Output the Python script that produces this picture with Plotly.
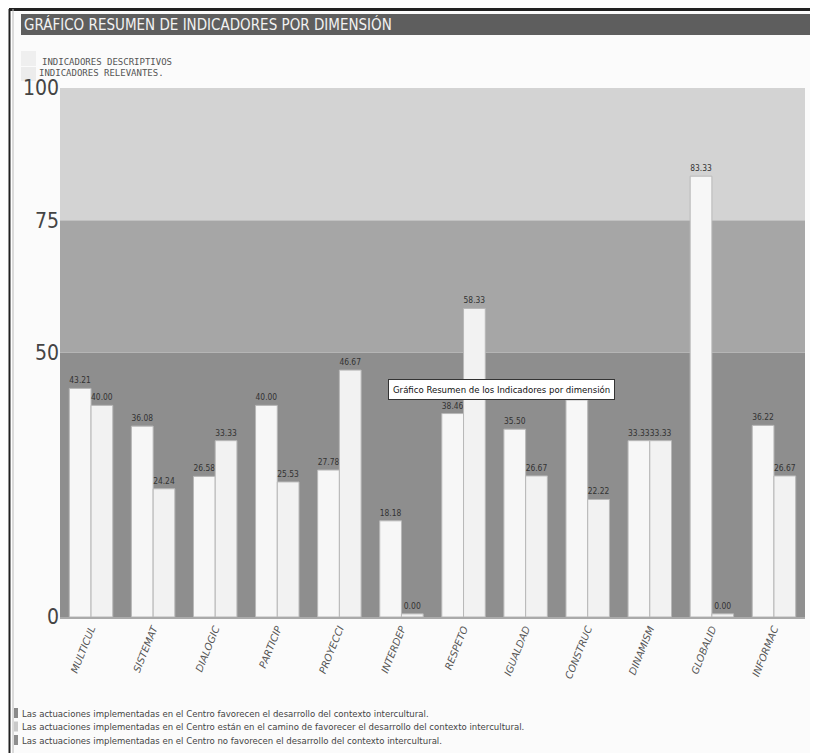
import plotly.graph_objects as go

categories = ["MULTICUL", "SISTEMAT", "DIALOGIC", "PARTICIP", "PROYECCI", "INTERDEP",
              "RESPETO", "IGUALDAD", "CONSTRUC", "DINAMISM", "GLOBALID", "INFORMAC"]
descriptivos = [43.21, 36.08, 26.58, 40.00, 27.78, 18.18, 38.46, 35.50, 41.03, 33.33, 83.33, 36.22]
relevantes = [40.00, 24.24, 33.33, 25.53, 46.67, 0.00, 58.33, 26.67, 22.22, 33.33, 0.00, 26.67]
y_ticks = [0, 50, 75, 100]
bands = [(0, 50, "#8e8e8e"), (50, 75, "#a6a6a6"), (75, 100, "#d3d3d3")]
legend_bottom = [
    ("#8a8a8a", "Las actuaciones implementadas en el Centro favorecen el desarrollo del contexto intercultural."),
    ("#c9c9c9", "Las actuaciones implementadas en el Centro están en el camino de favorecer el desarrollo del contexto intercultural."),
    ("#8e8e8e", "Las actuaciones implementadas en el Centro no favorecen el desarrollo del contexto intercultural."),
]
title_text = "GRÁFICO RESUMEN DE INDICADORES POR DIMENSIÓN"
legend_top = ["INDICADORES DESCRIPTIVOS", "INDICADORES RELEVANTES."]
tooltip_text = "Gráfico Resumen de los Indicadores por dimensión"

OFF = 8  # page body margin
W, H = 818 - OFF, 753 - OFF
# plot area in reference pixels: x 60..805, y 88..617
L, R, T, B = 60 - OFF, 818 - 805, 88 - OFF, 753 - 617
PW, PH = W - L - R, H - T - B


def px(x):
    return (x - OFF - L) / PW


def py(y):
    return (H - B - (y - OFF)) / PH


MIN_VIS = 0.6  # the original draws a thin sliver for 0.00 values
bar_font = dict(size=8.5, color="#333", family="DejaVu Sans Condensed")

fig = go.Figure()
fig.add_trace(go.Bar(
    x=categories, y=[max(v, MIN_VIS) for v in descriptivos],
    text=[f"{v:.2f}" for v in descriptivos], textposition="outside", textfont=bar_font,
    marker=dict(color="#f7f7f7", line=dict(color="#b8b8b8", width=1)),
    cliponaxis=False, hoverinfo="skip", showlegend=False))
fig.add_trace(go.Bar(
    x=categories, y=[max(v, MIN_VIS) for v in relevantes],
    text=[f"{v:.2f}" for v in relevantes], textposition="outside", textfont=bar_font,
    marker=dict(color="#f2f2f2", line=dict(color="#b8b8b8", width=1)),
    cliponaxis=False, hoverinfo="skip", showlegend=False))

shapes = []
# panel background
shapes.append(dict(type="rect", xref="paper", yref="paper", x0=px(12), x1=px(818), y0=py(753), y1=py(12),
                   fillcolor="#fbfbfb", line=dict(width=0), layer="below"))
for lo, hi, col in bands:
    shapes.append(dict(type="rect", xref="paper", yref="y", x0=0, x1=1, y0=lo, y1=hi,
                       fillcolor=col, line=dict(width=0), layer="below"))
# title bar
shapes.append(dict(type="rect", xref="paper", yref="paper", x0=px(21), x1=px(818), y0=py(35), y1=py(14),
                   fillcolor="#5e5e5e", line=dict(width=0), layer="below"))
# frame lines
shapes.append(dict(type="line", xref="paper", yref="paper", x0=px(9), x1=px(818), y0=py(9.5), y1=py(9.5),
                   line=dict(color="#222", width=3)))
shapes.append(dict(type="line", xref="paper", yref="paper", x0=px(9.5), x1=px(9.5), y0=py(9), y1=py(753),
                   line=dict(color="#222", width=2)))
shapes.append(dict(type="line", xref="paper", yref="paper", x0=px(13), x1=px(13), y0=py(9), y1=py(753),
                   line=dict(color="#bbbbbb", width=1)))
# top legend squares
shapes.append(dict(type="rect", xref="paper", yref="paper", x0=px(21), x1=px(36), y0=py(66), y1=py(51),
                   fillcolor="#efefef", line=dict(width=0), layer="below"))
shapes.append(dict(type="rect", xref="paper", yref="paper", x0=px(21), x1=px(36), y0=py(81), y1=py(67),
                   fillcolor="#ececec", line=dict(width=0), layer="below"))

annotations = [
    dict(text=title_text, xref="paper", yref="paper", x=px(22), y=py(25), xanchor="left", yanchor="middle",
         showarrow=False, font=dict(size=15, color="#f2f2f2", family="DejaVu Sans Condensed")),
    dict(text=legend_top[0], xref="paper", yref="paper", x=px(40), y=py(62), xanchor="left", yanchor="middle",
         showarrow=False, font=dict(size=9, color="#555", family="DejaVu Sans Mono")),
    dict(text=legend_top[1], xref="paper", yref="paper", x=px(37), y=py(73), xanchor="left", yanchor="middle",
         showarrow=False, font=dict(size=9, color="#555", family="DejaVu Sans Mono")),
    dict(text=tooltip_text, xref="paper", yref="paper", x=px(388), y=py(389), xanchor="left", yanchor="middle",
         showarrow=False, bgcolor="#ffffff", bordercolor="#333", borderwidth=1, borderpad=4,
         font=dict(size=9.5, color="#111", family="DejaVu Sans Condensed")),
]
for i, (col, txt) in enumerate(legend_bottom):
    yc = 713 + i * 13.5
    shapes.append(dict(type="rect", xref="paper", yref="paper", x0=px(14), x1=px(18), y0=py(yc + 5), y1=py(yc - 5),
                       fillcolor=col, line=dict(width=0)))
    annotations.append(dict(text=txt, xref="paper", yref="paper", x=px(20), y=py(yc), xanchor="left",
                            yanchor="middle", showarrow=False,
                            font=dict(size=9.5, color="#444", family="DejaVu Sans Condensed")))

fig.update_layout(
    width=W, height=H, margin=dict(l=L, r=R, t=T, b=B),
    paper_bgcolor="#ffffff", plot_bgcolor="#8e8e8e",
    barmode="group", bargap=0.3, bargroupgap=0.0,
    shapes=shapes, annotations=annotations,
    xaxis=dict(tickangle=-68, tickfont=dict(size=10, color="#555", family="DejaVu Sans", style="italic"),
               showline=True, linecolor="#aaaaaa", linewidth=2, ticks="", showgrid=False, fixedrange=True),
    yaxis=dict(range=[0, 100], tickvals=y_ticks, ticktext=[str(t) for t in y_ticks],
               tickfont=dict(size=21, color="#444", family="DejaVu Sans Condensed"),
               showgrid=False, zeroline=False, ticks="", showline=False, fixedrange=True),
)

fig.write_html("out.html")
